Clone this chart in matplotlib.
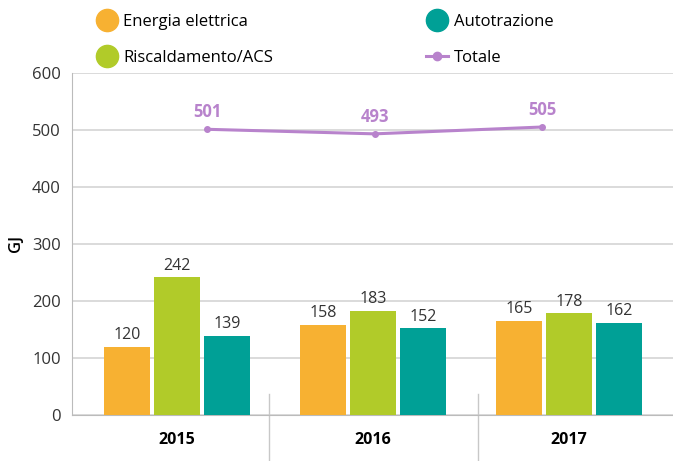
import numpy as np
import matplotlib.pyplot as plt
from matplotlib.lines import Line2D

anni = ['2015', '2016', '2017']
energia_elettrica = [120, 158, 165]
riscaldamento = [242, 183, 178]
autotrazione = [139, 152, 162]
totale = [501, 493, 505]

c_orange = '#F7B132'
c_green = '#B1CB29'
c_teal = '#00A096'
c_purple = '#B883CC'

plt.rcParams['font.family'] = ['Open Sans', 'DejaVu Sans']

fig = plt.figure(figsize=(6.73, 4.61), dpi=100)
ax = fig.add_axes([0.107, 0.0998, 0.893, 0.7422])

x = np.arange(len(anni))
w = 0.235
off = 0.255
serie = [(energia_elettrica, c_orange, -off), (riscaldamento, c_green, 0), (autotrazione, c_teal, off)]
for vals, col, dx in serie:
    bars = ax.bar(x + dx, vals, width=w, color=col, zorder=3)
    for b, v in zip(bars, vals):
        ax.text(b.get_x() + b.get_width() / 2, v + 6, str(v), ha='center', va='bottom',
                fontsize=11.5, color='#333333')

# linea totale (posizionata come nell'originale)
xl = 0.153 + 0.855 * x
ax.plot(xl, totale, color=c_purple, lw=2.2, marker='o', ms=4, zorder=4)
for xi, v in zip(xl, totale):
    ax.text(xi, v + 14, str(v), ha='center', va='bottom', fontsize=12,
            fontweight='bold', color=c_purple)

ax.set_xlim(-0.536, 2.53)
ax.set_ylim(0, 600)
ax.set_yticks(range(0, 601, 100))
ax.yaxis.grid(True, color='#d4d4d4', lw=1.2, zorder=0)
ax.set_xticks(x)
ax.set_xticklabels(anni, fontweight='bold', fontsize=11.5)
ax.tick_params(axis='x', length=0, pad=12)
ax.tick_params(axis='y', length=0, labelsize=12, labelcolor='#333333', pad=8)
for s in ['top', 'right']:
    ax.spines[s].set_visible(False)
ax.spines['left'].set_color('#bbbbbb')
ax.spines['bottom'].set_color('#bbbbbb')
ax.set_ylabel('GJ', fontsize=12, fontweight='semibold', labelpad=6)

# separatori tra gli anni
for sx in [0.47, 1.535]:
    ax.plot([sx, sx], [-0.18, 0.06], transform=ax.get_xaxis_transform(),
            color='#c8c8c8', lw=1, clip_on=False)

handles = [
    Line2D([], [], marker='o', ls='', ms=16, color=c_orange),
    Line2D([], [], marker='o', ls='', ms=16, color=c_green),
    Line2D([], [], marker='o', ls='', ms=16, color=c_teal),
    Line2D([], [], marker='o', ms=6, lw=2.2, color=c_purple),
]
labels = ['Energia elettrica', 'Riscaldamento/ACS', 'Autotrazione', 'Totale']
fig.legend(handles, labels, loc='upper left', bbox_to_anchor=(0.12, 1.003), ncol=2,
           frameon=False, fontsize=12, columnspacing=9.2, handlelength=1.3,
           handletextpad=0.35, labelspacing=1.2)

fig.savefig('out.png', dpi=100)
